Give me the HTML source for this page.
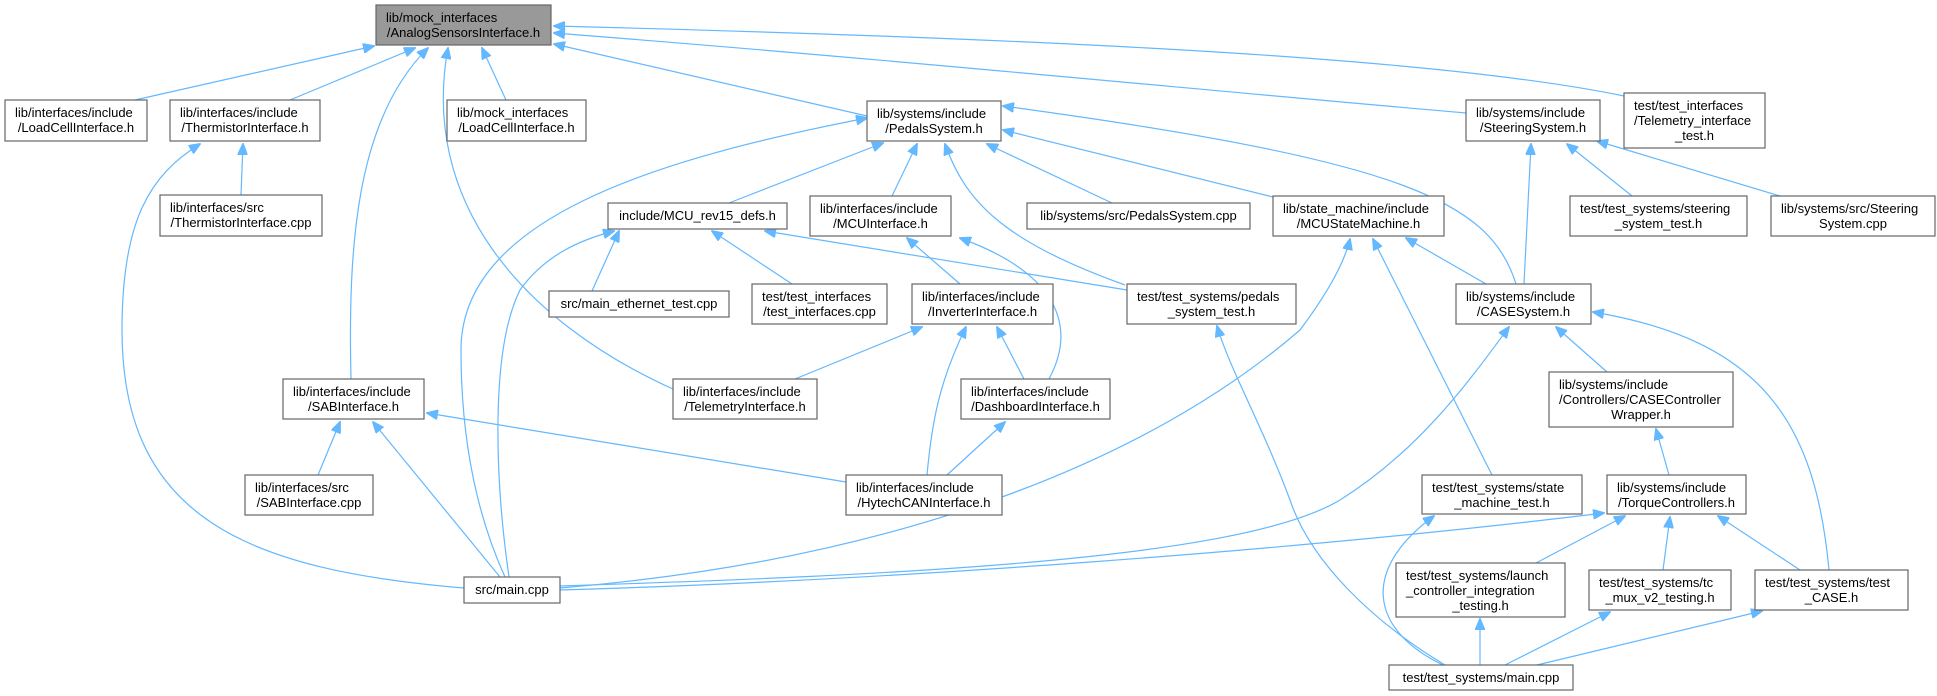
<!DOCTYPE html>
<html><head><meta charset="utf-8"><style>
html,body{margin:0;padding:0;background:#fff;}
svg{display:block;}
text{font-family:"Liberation Sans",Arial,sans-serif;font-size:13px;fill:#000;}
.b{fill:#fff;stroke:#666;stroke-width:1.2;}
.g{fill:#999;stroke:#666;stroke-width:1.2;}
.e{fill:none;stroke:#63b8ff;stroke-width:1.2;}
</style></head><body>
<svg width="1937" height="696" viewBox="0 0 1937 696" xmlns="http://www.w3.org/2000/svg">
<defs><marker id="ar" markerWidth="12" markerHeight="10" refX="11" refY="5" orient="auto" markerUnits="userSpaceOnUse"><path d="M0,0 L12,5 L0,10 z" fill="#63b8ff" stroke="#63b8ff"/></marker></defs>
<g class="e" marker-end="url(#ar)">
<path d="M135,100 L374,46"/>
<path d="M290,100 L415,48"/>
<path d="M351,379 C348,250 355,120 428,48"/>
<path d="M673,389 C520,320 420,200 448,48"/>
<path d="M506,100 L482,48"/>
<path d="M867,116 L554,44"/>
<path d="M1466,113 C1200,90 900,60 554,33"/>
<path d="M1624,96 C1450,60 1100,40 554,26"/>
<path d="M241,195 L243,144"/>
<path d="M464,588 C250,570 122,520 122,330 C122,220 150,175 200,144"/>
<path d="M729,203 L883,143"/>
<path d="M892,196 L917,144"/>
<path d="M1125,285 C1000,240 965,200 945,144"/>
<path d="M1112,203 L987,144"/>
<path d="M1273,197 L1003,130"/>
<path d="M1516,284 C1490,200 1400,160 1003,106"/>
<path d="M505,577 C470,500 461,420 461,350 C461,220 650,160 867,118"/>
<path d="M509,577 C495,480 490,350 520,290 C545,255 580,240 614,231"/>
<path d="M1524,284 L1531,144"/>
<path d="M1632,196 L1567,144"/>
<path d="M1780,196 L1597,141"/>
<path d="M592,291 L619,231"/>
<path d="M792,284 L712,231"/>
<path d="M1127,290 L765,231"/>
<path d="M960,284 L907,238"/>
<path d="M1049,379 C1070,340 1075,280 960,238"/>
<path d="M1486,284 L1406,238"/>
<path d="M560,588 C900,560 1150,460 1300,330 C1330,290 1345,260 1350,239"/>
<path d="M1492,475 L1373,239"/>
<path d="M1445,665 C1370,620 1310,560 1290,500 C1260,420 1230,370 1217,326"/>
<path d="M1607,372 L1556,327"/>
<path d="M1829,570 C1815,420 1760,340 1593,312"/>
<path d="M560,586 C900,575 1240,560 1340,500 C1420,450 1470,380 1509,327"/>
<path d="M1669,475 L1656,429"/>
<path d="M560,590 C900,580 1300,550 1604,513"/>
<path d="M1536,563 L1625,516"/>
<path d="M1663,570 L1670,517"/>
<path d="M1800,570 L1718,516"/>
<path d="M1443,665 C1370,630 1360,570 1434,516"/>
<path d="M1480,665 L1480,619"/>
<path d="M1505,665 L1610,612"/>
<path d="M1537,665 L1762,611"/>
<path d="M318,475 L340,422"/>
<path d="M500,577 L373,422"/>
<path d="M846,482 L427,413"/>
<path d="M795,379 L922,327"/>
<path d="M927,475 C932,420 940,380 966,327"/>
<path d="M1024,379 L997,327"/>
<path d="M947,475 L1005,422"/>
</g>
<g>
<rect class="g" x="376" y="5" width="175" height="40"/><text x="386" y="22">lib/mock_interfaces</text><text x="463.5" y="37" text-anchor="middle">/AnalogSensorsInterface.h</text>
<rect class="b" x="5" y="100" width="142" height="41"/><text x="15" y="117">lib/interfaces/include</text><text x="76" y="132" text-anchor="middle">/LoadCellInterface.h</text>
<rect class="b" x="170" y="100" width="150" height="41"/><text x="180" y="117">lib/interfaces/include</text><text x="245" y="132" text-anchor="middle">/ThermistorInterface.h</text>
<rect class="b" x="447" y="100" width="139" height="41"/><text x="457" y="117">lib/mock_interfaces</text><text x="516.5" y="132" text-anchor="middle">/LoadCellInterface.h</text>
<rect class="b" x="867" y="101" width="134" height="40"/><text x="877" y="118">lib/systems/include</text><text x="934" y="133" text-anchor="middle">/PedalsSystem.h</text>
<rect class="b" x="1466" y="100" width="134" height="41"/><text x="1476" y="117">lib/systems/include</text><text x="1533" y="132" text-anchor="middle">/SteeringSystem.h</text>
<rect class="b" x="1624" y="93" width="141" height="55"/><text x="1634" y="110">test/test_interfaces</text><text x="1634" y="125">/Telemetry_interface</text><text x="1694.5" y="140" text-anchor="middle">_test.h</text>
<rect class="b" x="160" y="195" width="162" height="41"/><text x="170" y="212">lib/interfaces/src</text><text x="241" y="227" text-anchor="middle">/ThermistorInterface.cpp</text>
<rect class="b" x="608" y="203" width="179" height="26"/><text x="697.5" y="220" text-anchor="middle">include/MCU_rev15_defs.h</text>
<rect class="b" x="810" y="196" width="141" height="40"/><text x="820" y="213">lib/interfaces/include</text><text x="880.5" y="228" text-anchor="middle">/MCUInterface.h</text>
<rect class="b" x="1027" y="203" width="223" height="26"/><text x="1138.5" y="220" text-anchor="middle">lib/systems/src/PedalsSystem.cpp</text>
<rect class="b" x="1273" y="196" width="171" height="40"/><text x="1283" y="213">lib/state_machine/include</text><text x="1358.5" y="228" text-anchor="middle">/MCUStateMachine.h</text>
<rect class="b" x="1570" y="196" width="177" height="40"/><text x="1580" y="213">test/test_systems/steering</text><text x="1658.5" y="228" text-anchor="middle">_system_test.h</text>
<rect class="b" x="1771" y="196" width="164" height="40"/><text x="1781" y="213">lib/systems/src/Steering</text><text x="1853" y="228" text-anchor="middle">System.cpp</text>
<rect class="b" x="549" y="291" width="180" height="26"/><text x="639" y="308" text-anchor="middle">src/main_ethernet_test.cpp</text>
<rect class="b" x="752" y="284" width="135" height="40"/><text x="762" y="301">test/test_interfaces</text><text x="819.5" y="316" text-anchor="middle">/test_interfaces.cpp</text>
<rect class="b" x="912" y="284" width="141" height="40"/><text x="922" y="301">lib/interfaces/include</text><text x="982.5" y="316" text-anchor="middle">/InverterInterface.h</text>
<rect class="b" x="1127" y="284" width="169" height="40"/><text x="1137" y="301">test/test_systems/pedals</text><text x="1211.5" y="316" text-anchor="middle">_system_test.h</text>
<rect class="b" x="1456" y="284" width="135" height="40"/><text x="1466" y="301">lib/systems/include</text><text x="1523.5" y="316" text-anchor="middle">/CASESystem.h</text>
<rect class="b" x="283" y="379" width="141" height="40"/><text x="293" y="396">lib/interfaces/include</text><text x="353.5" y="411" text-anchor="middle">/SABInterface.h</text>
<rect class="b" x="673" y="379" width="144" height="40"/><text x="683" y="396">lib/interfaces/include</text><text x="745" y="411" text-anchor="middle">/TelemetryInterface.h</text>
<rect class="b" x="961" y="379" width="149" height="40"/><text x="971" y="396">lib/interfaces/include</text><text x="1035.5" y="411" text-anchor="middle">/DashboardInterface.h</text>
<rect class="b" x="1549" y="372" width="184" height="55"/><text x="1559" y="389">lib/systems/include</text><text x="1559" y="404">/Controllers/CASEController</text><text x="1641" y="419" text-anchor="middle">Wrapper.h</text>
<rect class="b" x="245" y="475" width="128" height="40"/><text x="255" y="492">lib/interfaces/src</text><text x="309" y="507" text-anchor="middle">/SABInterface.cpp</text>
<rect class="b" x="846" y="475" width="156" height="40"/><text x="856" y="492">lib/interfaces/include</text><text x="924" y="507" text-anchor="middle">/HytechCANInterface.h</text>
<rect class="b" x="1422" y="475" width="160" height="39"/><text x="1432" y="492">test/test_systems/state</text><text x="1502" y="507" text-anchor="middle">_machine_test.h</text>
<rect class="b" x="1607" y="475" width="139" height="39"/><text x="1617" y="492">lib/systems/include</text><text x="1676.5" y="507" text-anchor="middle">/TorqueControllers.h</text>
<rect class="b" x="464" y="577" width="96" height="26"/><text x="512" y="594" text-anchor="middle">src/main.cpp</text>
<rect class="b" x="1396" y="563" width="169" height="54"/><text x="1406" y="580">test/test_systems/launch</text><text x="1406" y="595">_controller_integration</text><text x="1480.5" y="610" text-anchor="middle">_testing.h</text>
<rect class="b" x="1589" y="570" width="142" height="40"/><text x="1599" y="587">test/test_systems/tc</text><text x="1660" y="602" text-anchor="middle">_mux_v2_testing.h</text>
<rect class="b" x="1755" y="570" width="153" height="40"/><text x="1765" y="587">test/test_systems/test</text><text x="1831.5" y="602" text-anchor="middle">_CASE.h</text>
<rect class="b" x="1389" y="665" width="184" height="25"/><text x="1481" y="682" text-anchor="middle">test/test_systems/main.cpp</text>
</g>
</svg>
</body></html>
